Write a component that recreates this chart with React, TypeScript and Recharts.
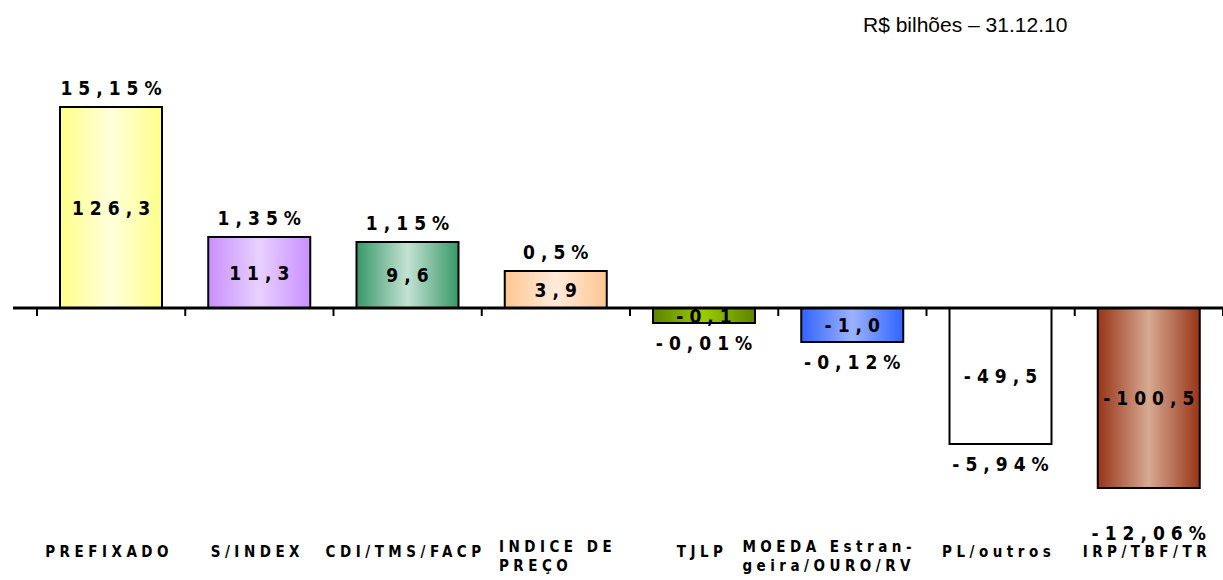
import React from 'react';
import { BarChart, Bar, XAxis, YAxis, Cell, LabelList, ReferenceLine } from 'recharts';

const categories = ['PREFIXADO', 'S/INDEX', 'CDI/TMS/FACP', 'INDICE DE PREÇO', 'TJLP', 'MOEDA Estrangeira/OURO/RV', 'PL/outros', 'IRP/TBF/TR'];
const tickLabelLines = [['PREFIXADO'], ['S/INDEX'], ['CDI/TMS/FACP'], ['INDICE DE', 'PREÇO'], ['TJLP'], ['MOEDA Estran-', 'geira/OURO/RV'], ['PL/outros'], ['IRP/TBF/TR']];
const amounts = [126.3, 11.3, 9.6, 3.9, -0.1, -1.0, -49.5, -100.5];
const shares = [15.15, 1.35, 1.15, 0.5, -0.01, -0.12, -5.94, -12.06];
// drawn bar lengths as they appear in the source picture (the source chart is not to scale)
const barLength = [201, 71, 66, 37, -15, -34, -136, -180];
const titleText = 'R$ bilhões – 31.12.10';

const data = categories.map((name, i) => ({ name, length: barLength[i], amount: amounts[i], share: shares[i] }));

const gradients = [
  { edge: '#ffff88', mid: '#ffffdc' },
  { edge: '#c890ff', mid: '#e8d0ff' },
  { edge: '#379868', mid: '#c4e2d3' },
  { edge: '#ffc690', mid: '#ffeadb' },
  { edge: '#5c8400', mid: '#9acc00' },
  { edge: '#3264ff', mid: '#9ab2ff' },
  { edge: '#ffffff', mid: '#ffffff' },
  { edge: '#983418', mid: '#d6aa92' },
];

const FONT = '"DejaVu Sans Condensed", "DejaVu Sans", sans-serif';

const fmt = (n: number) => String(n).replace('.', ',');

const AmountLabel = (props: any) => {
  const { x, y, width, height, value } = props;
  const top = Math.min(y, y + height);
  const h = Math.abs(height);
  return (
    <text x={x + width / 2 + 3} y={top + h / 2 + 7} textAnchor="middle" fontFamily={FONT} fontWeight="bold" fontSize={19} letterSpacing={6} fill="#000">
      {Number(value).toFixed(1).replace('.', ',')}
    </text>
  );
};

const ShareLabel = (props: any) => {
  const { x, y, width, height, value, index } = props;
  const top = Math.min(y, y + height);
  const bottom = Math.max(y, y + height);
  const neg = Number(value) < 0;
  const ty = neg ? bottom + 27 + (index === categories.length - 1 ? 25 : 0) : top - 12;
  return (
    <text x={x + width / 2 + 3} y={ty} textAnchor="middle" fontFamily={FONT} fontWeight="bold" fontSize={19} letterSpacing={6} fill="#000">
      {fmt(Number(value)) + '%'}
    </text>
  );
};

const CategoryTick = (props: any) => {
  const { x, y, index } = props;
  const lines = tickLabelLines[index] || [];
  if (lines.length === 1) {
    return (
      <text x={x - 2} y={y + 31} textAnchor="middle" fontFamily={FONT} fontWeight="bold" fontSize={15} letterSpacing={4.5} fill="#000">
        {lines[0]}
      </text>
    );
  }
  // multi-line labels are left-aligned, starting a little left of the band centre
  const sx = x - (lines[0].length > 10 ? 110 : 57);
  return (
    <text x={sx} y={y + 26} textAnchor="start" fontFamily={FONT} fontWeight="bold" fontSize={15} letterSpacing={4.5} fill="#000">
      {lines.map((l: string, i: number) => (
        <tspan key={i} x={sx} dy={i === 0 ? 0 : 19}>{l}</tspan>
      ))}
    </text>
  );
};

export default function App() {
  return (
    <div style={{ position: 'absolute', left: 0, top: 0, width: 1223, height: 580, background: '#fff' }}>
      <div style={{ position: 'absolute', left: 863, top: 13, fontFamily: '"Liberation Sans", Arial, sans-serif', fontSize: 21, color: '#000', whiteSpace: 'nowrap' }}>
        {titleText}
      </div>
      <BarChart width={1223} height={580} data={data} margin={{ top: 58, right: 0, bottom: 0, left: 13 }}>
        <defs>
          {gradients.map((g, i) => (
            <linearGradient key={i} id={`barGrad${i}`} x1="0" y1="0" x2="1" y2="0">
              <stop offset="0%" stopColor={g.edge} />
              <stop offset="50%" stopColor={g.mid} />
              <stop offset="100%" stopColor={g.edge} />
            </linearGradient>
          ))}
        </defs>
        <XAxis dataKey="name" height={62} axisLine={false} tickLine={false} interval={0} tick={<CategoryTick />} padding={{ left: 24, right: 0 }} />
        <YAxis hide domain={[-210, 250]} type="number" allowDataOverflow />
        <Bar dataKey="length" barSize={102} stroke="#000" strokeWidth={2} isAnimationActive={false}>
          {data.map((d, i) => (
            <Cell key={d.name} fill={`url(#barGrad${i})`} />
          ))}
          <LabelList dataKey="amount" content={<AmountLabel />} />
          <LabelList dataKey="share" content={<ShareLabel />} />
        </Bar>
        <ReferenceLine y={0} stroke="#000" strokeWidth={3} ifOverflow="visible" />
        {categories.map((c) => (
          <ReferenceLine key={'t' + c} segment={[{ x: c, y: 0 }, { x: c, y: -8 }]} position="start" stroke="#000" strokeWidth={2} ifOverflow="visible" />
        ))}
        <ReferenceLine segment={[{ x: categories[categories.length - 1], y: 0 }, { x: categories[categories.length - 1], y: -8 }]} position="end" stroke="#000" strokeWidth={2} ifOverflow="visible" />
      </BarChart>
    </div>
  );
}
